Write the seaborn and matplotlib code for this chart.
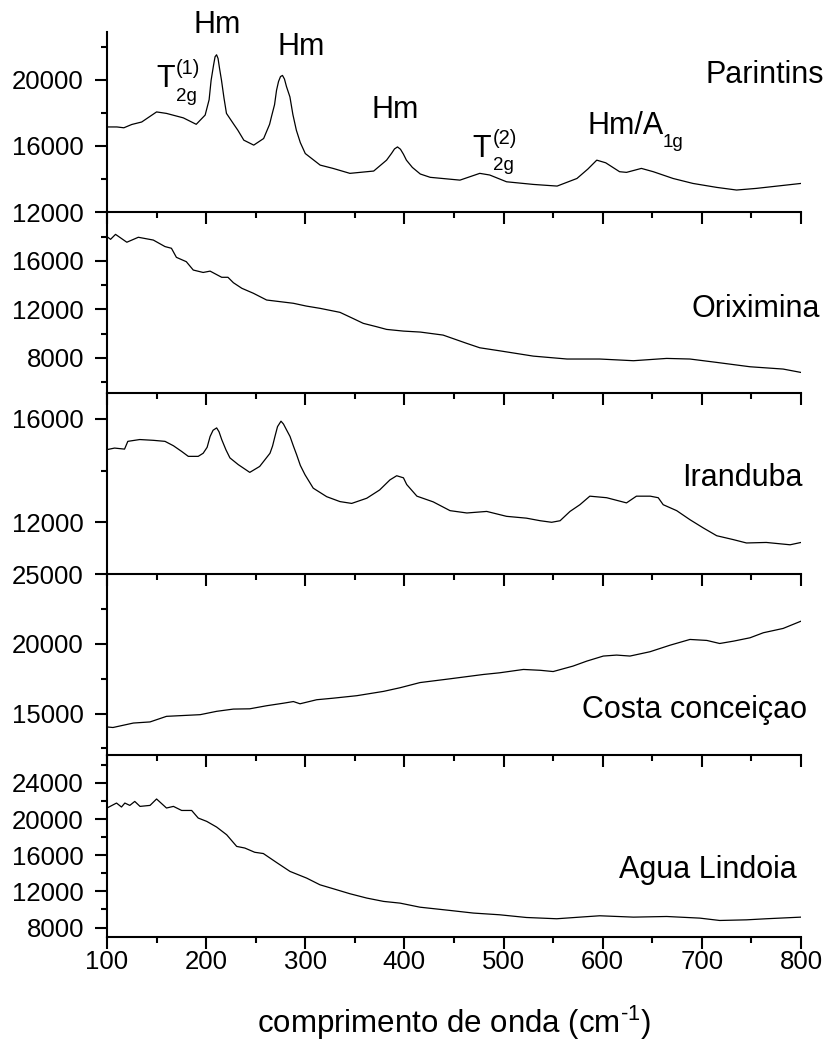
import matplotlib
matplotlib.use("Agg")
import matplotlib.pyplot as plt
import numpy as np
import pandas as pd
import seaborn as sns
from matplotlib.ticker import FixedLocator, MultipleLocator

# ---------------- data ----------------
parintins_x = [100, 110, 117, 125, 135, 150, 160, 177, 190, 199, 203, 205, 207.5, 209, 210.5, 212, 213.5, 215.5,
               218, 220.5, 228, 232, 238, 248, 258, 264, 266, 269, 271, 273, 275, 277, 279, 281, 284.5,
               287.5, 291, 295, 300, 315, 328, 345, 369, 382, 387, 390, 393, 396, 399, 402, 408, 416,
               426, 456, 476, 486, 503, 530, 554, 574, 585, 594, 603, 617, 624, 639, 651, 671, 691,
               715, 735, 755, 779, 800]
parintins_y = [17150, 17150, 17100, 17300, 17450, 18060, 17970, 17700, 17310, 17870, 18800, 19970, 20900, 21400, 21520, 21300, 20700, 19970,
               18900, 17970, 17300, 16950, 16350, 16050, 16450, 17310, 17800, 18500, 19370, 19900, 20200, 20270, 20050, 19600, 18970,
               17900, 16950, 16200, 15540, 14840, 14640, 14340, 14480, 15140, 15550, 15820, 15940, 15800, 15500, 15140, 14700, 14300,
               14100, 13930, 14340, 14240, 13830, 13670, 13570, 14030, 14600, 15140, 14980, 14440, 14400, 14640, 14440, 14030, 13730,
               13490, 13330, 13430, 13590, 13730]

oriximina_x = [100, 103.6, 108.6, 120, 131.6, 146.7, 158.5, 165, 170, 180, 187, 197, 204, 215.7, 222,
               227.5, 236, 247.6, 261, 274, 288, 301, 315, 335, 348, 358.5, 372, 382, 399, 416,
               439, 463, 476, 496, 530, 564, 597, 631, 664.5, 688, 715, 748.6, 782, 800]
oriximina_y = [18010, 17790, 18200, 17550, 17960, 17730, 17190, 17050, 16300, 15940, 15250, 15050, 15160, 14650, 14650,
               14200, 13740, 13330, 12770, 12640, 12500, 12270, 12080, 11750, 11250, 10840, 10560, 10340, 10200, 10120,
               9870, 9180, 8820, 8570, 8130, 7890, 7890, 7750, 7940, 7890, 7610, 7250, 7060, 6780]

iranduba_x = [100, 107.6, 117.7, 121, 133, 146.7, 158.5, 167, 175.3, 182, 192, 197, 201, 204, 207, 210.6, 213, 215.7,
              220, 224, 232.4, 244, 254, 264.4, 267, 269.4, 272, 275.5, 278, 281, 284.6, 288, 291.3, 295, 299.7,
              308, 321.6, 335, 346.8, 362, 375, 385.4, 392.2, 399, 402.3, 412.6, 429, 446, 463, 483,
              503, 523, 537, 548.5, 557, 567, 577, 587, 604, 624, 634, 648, 656, 661, 674.6,
              688, 701.5, 715, 731.7, 745, 765, 789, 800]
iranduba_y = [14810, 14870, 14830, 15130, 15200, 15170, 15130, 14960, 14740, 14550, 14550, 14670, 14900, 15320, 15560, 15650, 15500, 15200,
              14800, 14490, 14230, 13930, 14160, 14670, 14950, 15320, 15700, 15910, 15800, 15580, 15320, 14950, 14610, 14200, 13840,
              13320, 12990, 12800, 12730, 12930, 13250, 13640, 13800, 13720, 13460, 13010, 12790, 12450, 12360, 12420,
              12230, 12160, 12060, 12000, 12060, 12420, 12680, 13010, 12950, 12750, 13010, 13010, 12950, 12680, 12450,
              12100, 11780, 11480, 11330, 11200, 11220, 11130, 11220]

costa_x = [100, 106, 126.6, 143.4, 160, 194, 210.6, 227.4, 244, 261, 277.8, 288, 294.7, 311.5, 328,
           352, 379, 395.6, 415.7, 446, 479.6, 496, 520, 537, 550, 570, 584, 600.6, 614, 627.5,
           647.7, 668, 688, 705, 718, 732, 748.6, 762, 782, 800]
costa_y = [14040, 14000, 14320, 14400, 14800, 14920, 15160, 15320, 15340, 15560, 15740, 15860, 15700, 15990, 16100,
           16280, 16590, 16850, 17220, 17490, 17800, 17920, 18160, 18100, 18010, 18400, 18760, 19120, 19190, 19120,
           19430, 19900, 20310, 20240, 20020, 20190, 20430, 20790, 21100, 21620]

agua_x = [100, 109.6, 114.6, 118, 123, 128, 133.3, 143.4, 150, 160, 167, 175.3, 185.4, 192, 200.6,
          210.6, 220.7, 230.8, 239, 249, 257.7, 271, 284.6, 301.4, 314.8, 328.3, 345, 362, 379, 395.6,
          415.7, 446, 469.5, 496, 523, 553.6, 577, 597, 631, 664.5, 698, 718, 745, 765, 800]
agua_y = [21230, 21780, 21340, 21780, 21520, 21960, 21410, 21520, 22230, 21230, 21410, 20960, 20960, 20120, 19750,
          19120, 18270, 16980, 16800, 16330, 16190, 15200, 14210, 13470, 12730, 12290, 11740, 11260, 10890, 10700,
          10250, 9890, 9600, 9410, 9110, 8970, 9150, 9300, 9150, 9220, 9040, 8780, 8850, 8970, 9150]

sample_names = ["Parintins", "Oriximina", "Iranduba", "Costa conceiçao", "Agua Lindoia"]
x_ticks = [100, 200, 300, 400, 500, 600, 700, 800]

# ---------------- style ----------------
sns.set_theme(style="ticks")
plt.rcParams["font.family"] = ["Liberation Sans", "DejaVu Sans"]
plt.rcParams["mathtext.fontset"] = "custom"
plt.rcParams["mathtext.rm"] = "Liberation Sans"
plt.rcParams["mathtext.it"] = "Liberation Sans:italic"
plt.rcParams["axes.unicode_minus"] = False
plt.rcParams["text.color"] = "black"
plt.rcParams["axes.labelcolor"] = "black"
plt.rcParams["xtick.color"] = "black"
plt.rcParams["ytick.color"] = "black"
plt.rcParams["axes.edgecolor"] = "black"

W, H = 827, 1043
fig = plt.figure(figsize=(W / 100, H / 100), dpi=100)
fig.patch.set_facecolor("white")

left_px, right_px = 107, 801
panels_px = [(32, 212), (212, 393), (393, 574), (574, 755), (755, 937)]

series = [(parintins_x, parintins_y), (oriximina_x, oriximina_y), (iranduba_x, iranduba_y),
          (costa_x, costa_y), (agua_x, agua_y)]
ylims = [(12000, 22900), (5080, 20050), (10000, 17000), (12030, 25000), (6950, 27100)]
ymajor = [[12000, 16000, 20000], [8000, 12000, 16000], [12000, 16000],
          [15000, 20000, 25000], [8000, 12000, 16000, 20000, 24000]]
yminor = [[14000, 18000, 22000], [6000, 10000, 14000, 18000], [14000],
          [12500, 17500, 22500], [10000, 14000, 18000, 22000, 26000]]

axes = []
for i, ((top, bot), (xs, ys)) in enumerate(zip(panels_px, series)):
    ax = fig.add_axes([left_px / W, 1 - bot / H, (right_px - left_px) / W, (bot - top) / H])
    ax.patch.set_alpha(0)
    df = pd.DataFrame({"x": xs, "y": ys})
    sns.lineplot(data=df, x="x", y="y", ax=ax, color="black", linewidth=0.9,
                 estimator=None, sort=False)
    ax.set_xlim(100, 800)
    ax.set_ylim(*ylims[i])
    ax.xaxis.set_major_locator(FixedLocator(x_ticks))
    ax.xaxis.set_minor_locator(MultipleLocator(50))
    ax.yaxis.set_major_locator(FixedLocator(ymajor[i]))
    ax.yaxis.set_minor_locator(FixedLocator(yminor[i]))
    ax.set_yticklabels([str(v) for v in ymajor[i]])
    for s in ["top", "right"]:
        ax.spines[s].set_visible(False)
    for s in ["left", "bottom"]:
        ax.spines[s].set_linewidth(1.5)
        ax.spines[s].set_color("black")
    ax.tick_params(axis="both", which="major", direction="out", length=8.6, width=1.5,
                   color="black", labelsize=18.5, labelcolor="black")
    ax.tick_params(axis="both", which="minor", direction="out", length=4.5, width=1.5,
                   color="black")
    ax.tick_params(axis="y", which="major", pad=8)
    ax.tick_params(axis="x", which="major", pad=1)
    ax.set_ylabel("")
    ax.set_xlabel("")
    if i < 4:
        ax.tick_params(axis="x", labelbottom=False)
    axes.append(ax)

axes[-1].set_xticklabels([str(v) for v in x_ticks])
axes[-1].set_xlabel("comprimento de onda (cm$^{\\text{-1}}$)", fontsize=22.5,
                    labelpad=21, color="black")


def ftext(x, y, s, size=22, **kw):
    fig.text(x / W, 1 - y / H, s, fontsize=size, va="baseline", color="black", **kw)


# sample names
ftext(824, 83, sample_names[0], ha="right")
ftext(820, 317, sample_names[1], ha="right")
ftext(803, 486, sample_names[2], ha="right")
ftext(807, 718, sample_names[3], ha="right")
ftext(797, 878, sample_names[4], ha="right")

# band assignments (Parintins)
ftext(193, 33, "Hm", ha="left")
ftext(277, 55, "Hm", ha="left")
ftext(372, 118, "Hm", ha="left")
# T2g(1)
ftext(156, 87, "T", ha="left")
ftext(176, 74, "(1)", size=14.5, ha="left")
ftext(176, 101, "2g", size=13.5, ha="left")
# T2g(2)
ftext(472, 157, "T", ha="left")
ftext(493, 144, "(2)", size=14.5, ha="left")
ftext(493, 170, "2g", size=13.5, ha="left")
# Hm/A1g
ftext(587, 134, "Hm/A", ha="left")
ftext(663, 147, "1g", size=13.5, ha="left")

fig.savefig("out.png", dpi=100)
